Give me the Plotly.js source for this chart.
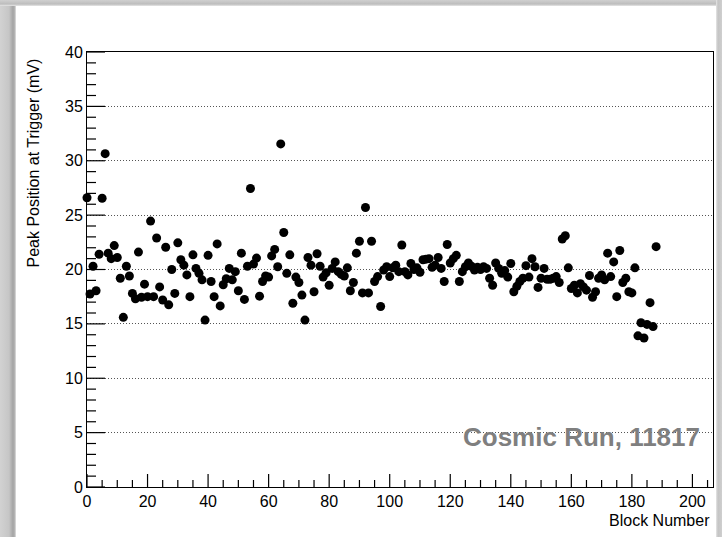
<!DOCTYPE html>
<html>
<head>
<meta charset="utf-8">
<script src="https://cdn.plot.ly/plotly-3.0.1.min.js"></script>
<style>
  html, body { margin: 0; padding: 0; background: #ffffff; }
  #wrap { position: relative; width: 722px; height: 537px; overflow: hidden; background: #ffffff; }
  #leftbar { position: absolute; left: 0; top: 0; width: 16px; height: 537px;
    background: linear-gradient(to right, #d2d2d2 0px, #c6c6c6 9px, #a4a4a4 13px, #b8b8b8 15px, #ececec 16px); }
  #topbar { position: absolute; left: 0; top: 0; width: 722px; height: 6px;
    background: linear-gradient(to bottom, #d0d0d0 0px, #bdbdbd 4px, #e6e6e6 6px); }
  #rightbar { position: absolute; right: 0; top: 0; width: 6px; height: 537px;
    background: linear-gradient(to right, #e6e6e6 0px, #c4c4c4 2px, #cfcfcf 6px); }
  #chart { position: absolute; left: 0; top: 0; width: 722px; height: 537px; }
</style>
</head>
<body>
<div id="wrap">
  <div id="leftbar"></div>
  <div id="topbar"></div>
  <div id="rightbar"></div>
  <div id="chart"></div>
</div>
<script>
// Block numbers (x) and peak position at trigger in mV (y)
const blockNumbers = [
  0,1,2,3,4,5,6,7,8,9,
  10,11,12,13,14,15,16,17,18,19,
  20,21,22,23,24,25,26,27,28,29,
  30,31,32,33,34,35,36,37,38,39,
  40,41,42,43,44,45,46,47,48,49,
  50,51,52,53,54,55,56,57,58,59,
  60,61,62,63,64,65,66,67,68,69,
  70,71,72,73,74,75,76,77,78,79,
  80,81,82,83,84,85,86,87,88,89,
  90,91,92,93,94,95,96,97,98,99,
  100,101,102,103,104,105,106,107,108,109,
  110,111,112,113,114,115,116,117,118,119,
  120,121,122,123,124,125,126,127,128,129,
  130,131,132,133,134,135,136,137,138,139,
  140,141,142,143,144,145,146,147,148,149,
  150,151,152,153,154,155,156,157,158,159,
  160,161,162,163,164,165,166,167,168,169,
  170,171,172,173,174,175,176,177,178,179,
  180,181,182,183,184,185,186,187,188
];
const peakPositions = [
  26.6,17.75,20.3,18.05,21.4,26.55,30.65,21.5,21.0,22.2,
  21.1,19.2,15.6,20.3,19.4,17.8,17.3,21.6,17.45,18.65,
  17.5,24.45,17.5,22.9,18.4,17.2,22.05,16.75,20.0,17.8,
  22.45,20.9,20.4,19.5,17.5,21.35,20.1,19.65,19.05,15.35,
  21.3,18.9,17.5,22.35,16.65,18.6,19.15,20.1,19.05,19.8,
  18.05,21.5,17.25,20.3,27.45,20.5,21.05,17.55,18.9,19.4,
  19.3,21.25,21.85,20.25,31.55,23.4,19.65,21.35,16.9,19.3,
  18.8,17.65,15.35,21.1,20.4,17.95,21.45,20.3,19.3,19.7,
  18.55,20.1,20.7,19.8,19.55,19.4,20.15,18.05,18.8,21.5,
  22.6,17.85,25.7,17.85,22.6,18.9,19.35,16.6,19.95,20.25,
  19.35,20.15,20.4,19.8,22.25,19.8,19.5,20.55,20.0,20.15,
  19.75,20.9,20.95,21.0,20.2,20.4,21.1,20.1,18.9,22.3,
  20.6,21.0,21.3,18.9,19.8,20.25,20.6,20.3,19.95,20.2,
  20.0,20.25,20.1,19.2,18.55,20.6,20.1,19.65,19.9,19.3,
  20.55,17.95,18.45,18.9,19.2,20.35,19.3,21.0,20.25,18.35,
  19.2,20.1,19.1,19.1,19.2,19.35,18.8,22.8,23.1,20.15,
  18.25,18.55,17.85,18.7,18.4,18.1,19.45,17.45,17.95,19.2,
  19.5,19.05,21.5,19.35,20.7,17.5,21.75,18.8,19.2,17.95,
  17.85,20.15,13.9,15.1,13.7,14.95,16.95,14.75,22.1
];
const xTitle = "Block Number";
const yTitle = "Peak Position at Trigger (mV)";
const runLabel = "Cosmic Run, 11817";

const FONT = "Liberation Sans, Arial, Helvetica, sans-serif";
const X_RANGE = [0, 206.8];
const Y_RANGE = [0, 40];
const PLOT_W = 722 - 87 - 9;   // plot-area width in px
const PLOT_H = 537 - 52 - 50;  // plot-area height in px
const Y_PER_PX = (Y_RANGE[1] - Y_RANGE[0]) / PLOT_H;
const X_PER_PX = (X_RANGE[1] - X_RANGE[0]) / PLOT_W;

// ROOT-style inside tick marks, placed in axis coordinates
const tickShapes = [];
for (let v = 0; v <= X_RANGE[1] + 1e-9; v += 5) {
  const major = v % 20 === 0;
  tickShapes.push({
    type: "rect", xref: "x", yref: "y", layer: "above",
    x0: v - 0.6 * X_PER_PX, x1: v + 0.6 * X_PER_PX,
    y0: Y_RANGE[0], y1: Y_RANGE[0] + (major ? 13 : 7) * Y_PER_PX,
    fillcolor: "#000000", line: { width: 0 }
  });
}
for (let v = 0; v <= Y_RANGE[1] + 1e-9; v += 1) {
  const major = v % 5 === 0;
  tickShapes.push({
    type: "line", xref: "x", yref: "y", layer: "above",
    x0: X_RANGE[0], x1: X_RANGE[0] + (major ? 18 : 9) * X_PER_PX, y0: v, y1: v,
    line: { color: "#000000", width: 1.2 }
  });
}

const trace = {
  type: "scatter",
  mode: "markers",
  x: blockNumbers,
  y: peakPositions,
  cliponaxis: false,
  marker: { color: "#000000", size: 9, symbol: "circle", line: { width: 0 } },
  hoverinfo: "x+y"
};

const layout = {
  width: 722,
  height: 537,
  margin: { l: 87, r: 9, t: 52, b: 50, pad: 0 },
  paper_bgcolor: "rgba(0,0,0,0)",
  plot_bgcolor: "#ffffff",
  showlegend: false,
  font: { family: FONT, size: 16, color: "#000000" },
  xaxis: {
    range: X_RANGE,
    tickmode: "linear", tick0: 0, dtick: 20,
    ticks: "",
    showline: true, linecolor: "#000000", linewidth: 1, mirror: true,
    showgrid: false, zeroline: false,
    tickfont: { family: FONT, size: 16, color: "#000000" }
  },
  yaxis: {
    range: Y_RANGE,
    tickmode: "linear", tick0: 0, dtick: 5,
    ticks: "",
    showline: true, linecolor: "#000000", linewidth: 1, mirror: true,
    showgrid: true, gridcolor: "#555555", gridwidth: 1, griddash: "1px,2px",
    zeroline: false,
    tickfont: { family: FONT, size: 16, color: "#000000" }
  },
  shapes: tickShapes,
  annotations: [
    {
      text: runLabel, xref: "x", yref: "y", x: 203, y: 4.6,
      xanchor: "right", yanchor: "middle", showarrow: false,
      font: { family: FONT, size: 26, color: "#7f7f7f", weight: "bold" }
    },
    {
      text: xTitle, xref: "paper", yref: "paper", x: 0.998, y: -0.078,
      xanchor: "right", yanchor: "middle", showarrow: false,
      font: { family: FONT, size: 16, color: "#000000" }
    },
    {
      text: yTitle, xref: "paper", yref: "paper", x: -0.086, y: 0.744,
      xanchor: "center", yanchor: "middle", showarrow: false, textangle: -90,
      font: { family: FONT, size: 16, color: "#000000" }
    }
  ]
};

Plotly.newPlot("chart", [trace], layout, { displayModeBar: false });
</script>
</body>
</html>
